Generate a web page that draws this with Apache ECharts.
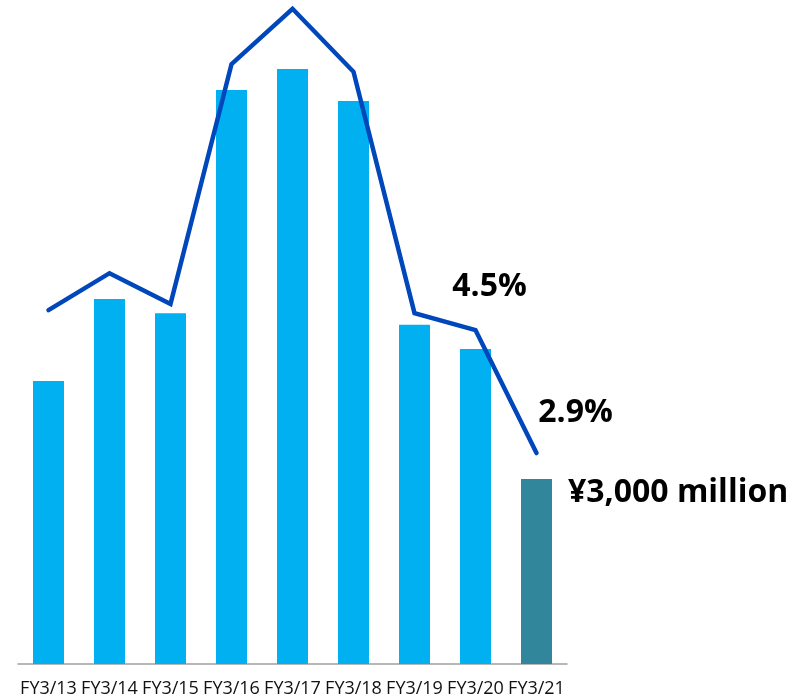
<!DOCTYPE html>
<html>
<head>
<meta charset="utf-8">
<script src="https://cdn.jsdelivr.net/npm/echarts@6/dist/echarts.min.js"></script>
<style>
html,body{margin:0;padding:0;background:#fff;}
#chart{width:806px;height:698px;}
</style>
</head>
<body>
<div id="chart"></div>
<script>
const categories = ['FY3/13','FY3/14','FY3/15','FY3/16','FY3/17','FY3/18','FY3/19','FY3/20','FY3/21'];
const profitMillionYen = [4590, 5920, 5690, 9310, 9650, 9130, 5500, 5110, 3000];
const marginPct = [4.76, 5.24, 4.84, 7.96, 8.68, 7.86, 4.72, 4.5, 2.9];
const labeledMarginIdx = [7, 8];
const labeledBarIdx = [8];

const barData = profitMillionYen.map((v, i) => ({
  value: v,
  itemStyle: { color: i === categories.length - 1 ? '#31869B' : '#00B0F0' },
  label: labeledBarIdx.includes(i) ? {
    show: true,
    position: [47, 14],
    align: 'left',
    verticalAlign: 'middle',
    formatter: p => '¥' + p.value.toLocaleString('en-US') + ' million',
    fontFamily: 'Open Sans',
    fontWeight: 'bold',
    fontSize: 32,
    color: '#000'
  } : { show: false }
}));

const labelOffsets = { 7: [14, -43], 8: [39, -40] };
const lineData = marginPct.map((v, i) => ({
  value: v,
  label: labeledMarginIdx.includes(i) ? {
    show: true,
    position: 'inside',
    offset: labelOffsets[i],
    formatter: p => p.value.toFixed(1) + '%',
    fontFamily: 'Open Sans',
    fontWeight: 'bold',
    fontSize: 32,
    color: '#000'
  } : { show: false }
}));

const chart = echarts.init(document.getElementById('chart'), null, { renderer: 'canvas' });
chart.setOption({
  animation: false,
  backgroundColor: '#fff',
  grid: { left: 18, right: 239, top: 4, bottom: 34, containLabel: false },
  xAxis: {
    type: 'category',
    data: categories,
    axisLine: { lineStyle: { color: '#A0A0A0', width: 1.5 } },
    axisTick: { show: false },
    axisLabel: { interval: 0, margin: 16, fontFamily: 'Open Sans', fontSize: 18, color: '#111' }
  },
  yAxis: [
    { type: 'value', min: 0, max: 10703, show: false, splitLine: { show: false } },
    { type: 'value', min: 0.156, max: 8.742, show: false, splitLine: { show: false } }
  ],
  series: [
    { type: 'bar', data: barData, barWidth: 31, yAxisIndex: 0 },
    {
      type: 'line', data: lineData, yAxisIndex: 1,
      symbol: 'circle', symbolSize: 1, showSymbol: true,
      itemStyle: { color: 'rgba(0,0,0,0)' },
      lineStyle: { color: '#0047BB', width: 4.5, cap: 'round', join: 'miter' },
      z: 3
    }
  ]
});
</script>
</body>
</html>
